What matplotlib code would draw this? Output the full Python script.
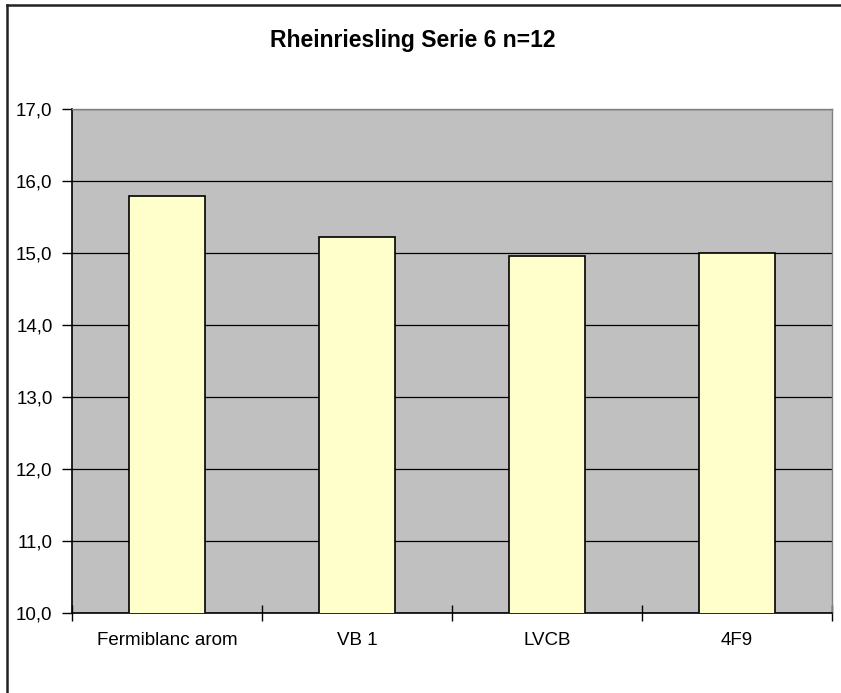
import matplotlib.pyplot as plt
import numpy as np
from matplotlib.lines import Line2D
from matplotlib.ticker import FuncFormatter

plt.rcParams['font.family'] = ['Liberation Sans', 'DejaVu Sans']

title = 'Rheinriesling Serie 6 n=12'
categories = ['Fermiblanc arom', 'VB 1', 'LVCB', '4F9']
values = [15.79, 15.22, 14.96, 15.0]
yticks = [10, 11, 12, 13, 14, 15, 16, 17]

fig = plt.figure(figsize=(8.41, 6.93), dpi=100)
ax = fig.add_axes([72/841, 1-613/693, (832-72)/841, (613-108.7)/693])
ax.set_facecolor('#C0C0C0')

x = np.arange(len(categories))
ax.bar(x, values, width=0.4, bottom=0, color='#FFFFCC', edgecolor='black',
       linewidth=1.2, zorder=3)

ax.set_xlim(-0.5, len(categories)-0.5)
ax.set_ylim(10, 17)
ax.set_yticks(yticks)
ax.yaxis.set_major_formatter(FuncFormatter(lambda v, p: f'{v:.1f}'.replace('.', ',')))
ax.grid(axis='y', color='black', linewidth=0.9, zorder=1)
ax.set_axisbelow(True)

ax.set_xticks(x)
ax.set_xticklabels(categories)
ax.set_xticks(np.arange(len(categories)+1)-0.5, minor=True)
ax.tick_params(axis='x', which='major', length=0, pad=14, labelsize=13.5)
ax.tick_params(axis='x', which='minor', direction='inout', length=12, width=1)
ax.tick_params(axis='y', which='major', direction='out', length=7, width=1,
               pad=7, labelsize=13.5)

for s in ['left', 'bottom']:
    ax.spines[s].set_color('black')
    ax.spines[s].set_linewidth(1.2)
for s in ['top', 'right']:
    ax.spines[s].set_color('#808080')
    ax.spines[s].set_linewidth(1)

fig.text(412.5/841, 1-46.7/693, title, ha='center', va='baseline',
         fontsize=16.5, fontweight='bold')

# outer chart frame (only top and left edges fall inside the image)
fig.add_artist(Line2D([7/841, 1], [1-5/693, 1-5/693], color='#222222', lw=1.8,
                      transform=fig.transFigure))
fig.add_artist(Line2D([7/841, 7/841], [0, 1-5/693], color='#222222', lw=1.8,
                      transform=fig.transFigure))

fig.savefig('out.png', dpi=100)
